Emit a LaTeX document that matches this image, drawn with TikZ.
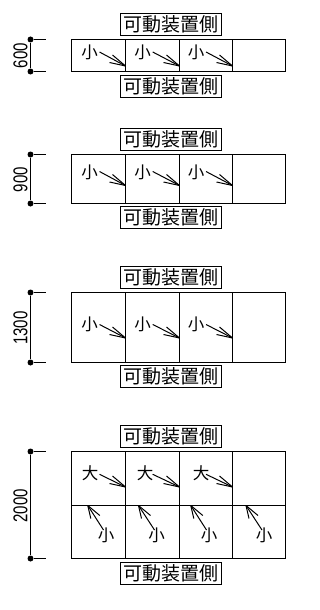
\documentclass[tikz,border=0pt]{standalone}
\usepackage{fontspec}
\newfontfamily\jpfont{Noto Sans CJK JP}
\setmainfont{Liberation Sans}
\newcommand{\sidefont}{\jpfont\fontsize{19}{20}\selectfont}
\newcommand{\sidetext}{可動装置側}
\tikzset{
  x=1pt,y=-1pt,
  cellline/.style={draw=black,line width=1pt},
  sidebox/.style={draw=black,line width=1pt,fill=white,inner sep=0pt,minimum width=101pt,minimum height=22pt,font=\sidefont},
  mark glyph/.style={inner sep=0pt,font=\jpfont\fontsize{16.5}{16.5}\selectfont},
  dimlabel/.style={inner sep=0pt,rotate=90,xscale=0.75,font=\fontsize{20}{20}\selectfont},
  dimline/.style={draw=black,line width=1pt},
  arrowline/.style={draw=black,line width=1pt},
  dimdot/.style={circle,fill=black,inner sep=0pt,minimum size=6pt}
}
% \flowarrow{start name}{tip name}{start}{tip}{barb1}{barb2}
\newcommand{\flowarrow}[6]{%
  \coordinate (#1) at #3;
  \coordinate (#2) at #4;
  \draw[arrowline] (#1) -- (#2);
  \draw[arrowline] (#2) -- ++#5;
  \draw[arrowline] (#2) -- ++#6;
}
% \dimset{name}{top}{bottom}{text}{label y}
\newcommand{\dimset}[5]{%
  \node[dimdot] (#1t) at (30.5,#2) {};
  \node[dimdot] (#1b) at (30.5,#3) {};
  \coordinate (#1te) at (45.5,#2);
  \coordinate (#1be) at (45.5,#3);
  \draw[dimline] (#1t) -- (#1b);
  \draw[dimline] (#1t) -- (#1te);
  \draw[dimline] (#1b) -- (#1be);
  \node[dimlabel] (#1l) at (20.5,#5) {#4};
}
% \cellrow{top}{bottom}
\newcommand{\cellrow}[2]{%
  \draw[cellline] (71.5,#1) rectangle (285.5,#2);
  \draw[cellline] (125.5,#1) -- (125.5,#2);
  \draw[cellline] (179.5,#1) -- (179.5,#2);
  \draw[cellline] (232.5,#1) -- (232.5,#2);
}
\begin{document}
\begin{tikzpicture}
\useasboundingbox (0,0) rectangle (320,610);
% group 1
\node[sidebox] (a1) at (170.5,24.5) {\sidetext};
\node[sidebox] (a2) at (170.5,86.5) {\sidetext};
\cellrow{39.5}{71.5}
\dimset{da}{39.5}{71.5}{600}{55.5}
\foreach \n/\gx/\sx/\tx in {1/89.5/99.5/125.5,2/142.7/152.7/179.5,3/196/206/232.5}{
  \node[mark glyph] (am\n) at (\gx,52.5) {小};
  \flowarrow{as\n}{at\n}{(\sx,52)}{(\tx,66)}{(-13,-11)}{(-16,-3.5)}
}
% group 2
\node[sidebox] (b1) at (170.5,139.5) {\sidetext};
\node[sidebox] (b2) at (170.5,217.5) {\sidetext};
\cellrow{154.5}{203.5}
\dimset{db}{154.5}{203.5}{900}{179.7}
\foreach \n/\gx/\sx/\tx in {1/89.5/99.5/125.5,2/142.7/152.7/179.5,3/196/206/232.5}{
  \node[mark glyph] (bm\n) at (\gx,172.5) {小};
  \flowarrow{bs\n}{bt\n}{(\sx,171.5)}{(\tx,185.5)}{(-13,-11)}{(-16,-3.5)}
}
% group 3
\node[sidebox] (c1) at (170.5,277.5) {\sidetext};
\node[sidebox] (c2) at (170.5,376.5) {\sidetext};
\cellrow{292.5}{362.5}
\dimset{dc}{292.5}{362.5}{1300}{328}
\foreach \n/\gx/\sx/\tx in {1/89.5/99.5/125.5,2/142.7/152.7/179.5,3/196/206/232.5}{
  \node[mark glyph] (cm\n) at (\gx,324) {小};
  \flowarrow{cs\n}{ct\n}{(\sx,324.5)}{(\tx,338)}{(-13,-11)}{(-16,-3.5)}
}
% group 4
\node[sidebox] (e1) at (170.5,436.5) {\sidetext};
\node[sidebox] (e2) at (170.5,573.5) {\sidetext};
\cellrow{451.5}{505.5}
\cellrow{505.5}{558.5}
\dimset{de}{451.5}{558.5}{2000}{505.7}
\foreach \n/\gx/\sx/\tx in {1/90/99.5/125.5,2/145/152.7/179.5,3/201/206/232.5}{
  \node[mark glyph] (em\n) at (\gx,473) {大};
  \flowarrow{es\n}{et\n}{(\sx,474.3)}{(\tx,487)}{(-13,-11)}{(-16,-3.5)}
}
\foreach \n/\gx/\sx/\tx in {1/106/103.5/87.8,2/156.5/154.5/138.5,3/209/206.5/190.8,4/264/262/246}{
  \node[mark glyph] (fm\n) at (\gx,535.7) {小};
  \flowarrow{fs\n}{ft\n}{(\sx,530)}{(\tx,505.5)}{(12,10)}{(3,13)}
}
\end{tikzpicture}
\end{document}
